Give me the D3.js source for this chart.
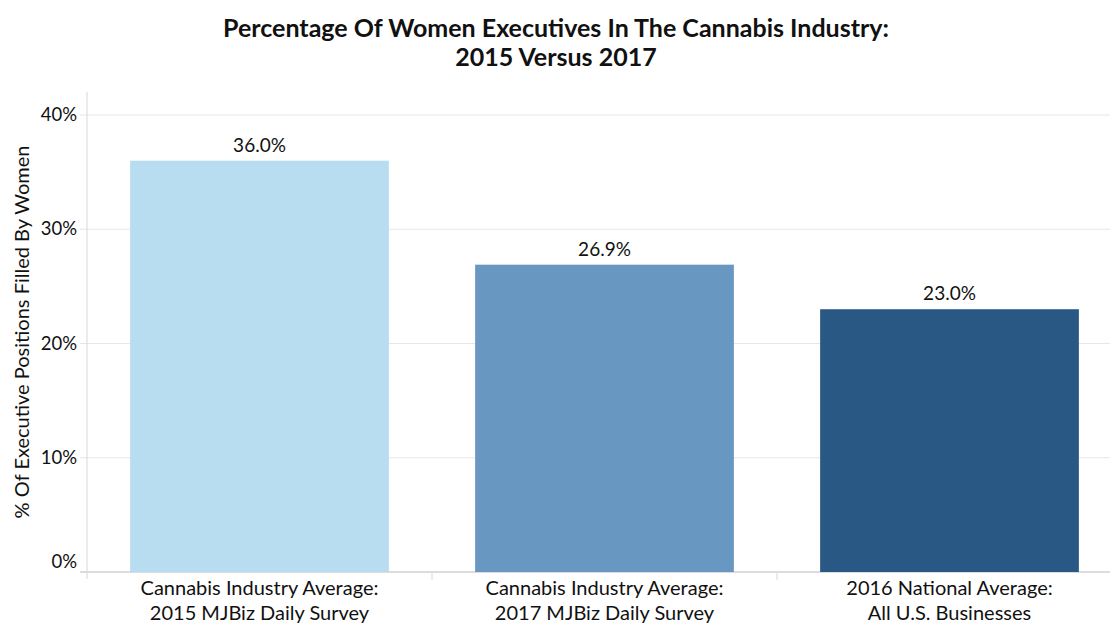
<!DOCTYPE html>
<html>
<head>
<meta charset="utf-8">
<script src="https://cdn.jsdelivr.net/npm/d3@7"></script>
<style>
  body { margin: 0; background: #fff; }
  svg text { font-family: Lato, "Open Sans", sans-serif; fill: #111; }
</style>
</head>
<body>
<div id="chart"></div>
<script>
const categories = [
  ["Cannabis Industry Average:", "2015 MJBiz Daily Survey"],
  ["Cannabis Industry Average:", "2017 MJBiz Daily Survey"],
  ["2016 National Average:", "All U.S. Businesses"]
];
const values = [36.0, 26.9, 23.0];
const colors = ["#b8ddf0", "#6898c2", "#2a5884"];
const yTicks = [0, 10, 20, 30, 40];
const titleLines = ["Percentage Of Women Executives In The Cannabis Industry:", "2015 Versus 2017"];
const yTitle = "% Of Executive Positions Filled By Women";

class BarChart {
  constructor(config) {
    this.config = config;
    this.svg = d3.select(config.div).append("svg")
      .attr("width", config.width)
      .attr("height", config.height);
    this.bins = values.map((v, i) => ({ val: v, cat: i, lines: categories[i], color: colors[i] }));
  }

  createScales() {
    const c = this.config;
    this.xScale = d3.scaleBand().domain(this.bins.map(d => d.cat))
      .range([c.left, c.left + 3 * 345]).paddingInner(0.25).paddingOuter(0.125);
    this.yScale = d3.scaleLinear().domain([0, 40]).range([572, 115]);
  }

  createAxis() {
    const c = this.config;
    const g = this.svg.append("g");
    // gridlines
    g.selectAll("line.grid").data(yTicks).join("line")
      .attr("x1", c.left - 7).attr("x2", c.width)
      .attr("y1", d => this.yScale(d)).attr("y2", d => this.yScale(d))
      .attr("stroke", d => d === 0 ? "#d0d0d0" : "#e6e6e6").attr("stroke-width", d => d === 0 ? 1.5 : 1);
    // y axis line
    g.append("line").attr("x1", c.left).attr("x2", c.left)
      .attr("y1", 92).attr("y2", 579).attr("stroke", "#d8d8d8");
    // tick labels
    g.selectAll("text.tick").data(yTicks).join("text")
      .attr("x", c.left - 10).attr("y", d => this.yScale(d) + (d === 0 ? -4 : 6))
      .attr("text-anchor", "end").attr("font-size", 18.5)
      .text(d => d + "%");
    // category dividers
    const step = this.xScale.step();
    g.selectAll("line.div").data(this.bins.slice(1)).join("line")
      .attr("x1", d => this.xScale(d.cat) - step * 0.125)
      .attr("x2", d => this.xScale(d.cat) - step * 0.125)
      .attr("y1", 573).attr("y2", 580).attr("stroke", "#d8d8d8");
    // category labels
    const lab = g.selectAll("text.cat").data(this.bins).join("text")
      .attr("text-anchor", "middle").attr("font-size", 20)
      .attr("transform", d => `translate(${this.xScale(d.cat) + this.xScale.bandwidth() / 2},0)`);
    lab.selectAll("tspan").data(d => d.lines).join("tspan")
      .attr("x", 0).attr("y", (d, i) => 595 + i * 25).text(d => d);
    // y title
    this.svg.append("text")
      .attr("transform", `translate(29,${(92 + 572) / 2}) rotate(-90)`)
      .attr("text-anchor", "middle").attr("font-size", 20)
      .text(yTitle);
    // title
    this.svg.append("g").selectAll("text").data(titleLines).join("text")
      .attr("x", c.width / 2 + 1).attr("y", (d, i) => 37 + i * 29)
      .attr("text-anchor", "middle").attr("font-size", 25).attr("font-weight", "bold")
      .text(d => d);
  }

  render() {
    this.svg.append("g").selectAll("rect").data(this.bins).join("rect")
      .attr("x", d => this.xScale(d.cat))
      .attr("y", d => this.yScale(d.val))
      .attr("width", this.xScale.bandwidth())
      .attr("height", d => this.yScale(0) - this.yScale(d.val))
      .style("fill", d => d.color);
    this.svg.append("g").selectAll("text").data(this.bins).join("text")
      .attr("x", d => this.xScale(d.cat) + this.xScale.bandwidth() / 2)
      .attr("y", d => this.yScale(d.val) - 9)
      .attr("text-anchor", "middle").attr("font-size", 19)
      .text(d => d.val.toFixed(1) + "%");
  }
}

const app = new BarChart({ div: "#chart", width: 1110, height: 625, left: 87 });
app.createScales();
app.createAxis();
app.render();
</script>
</body>
</html>
